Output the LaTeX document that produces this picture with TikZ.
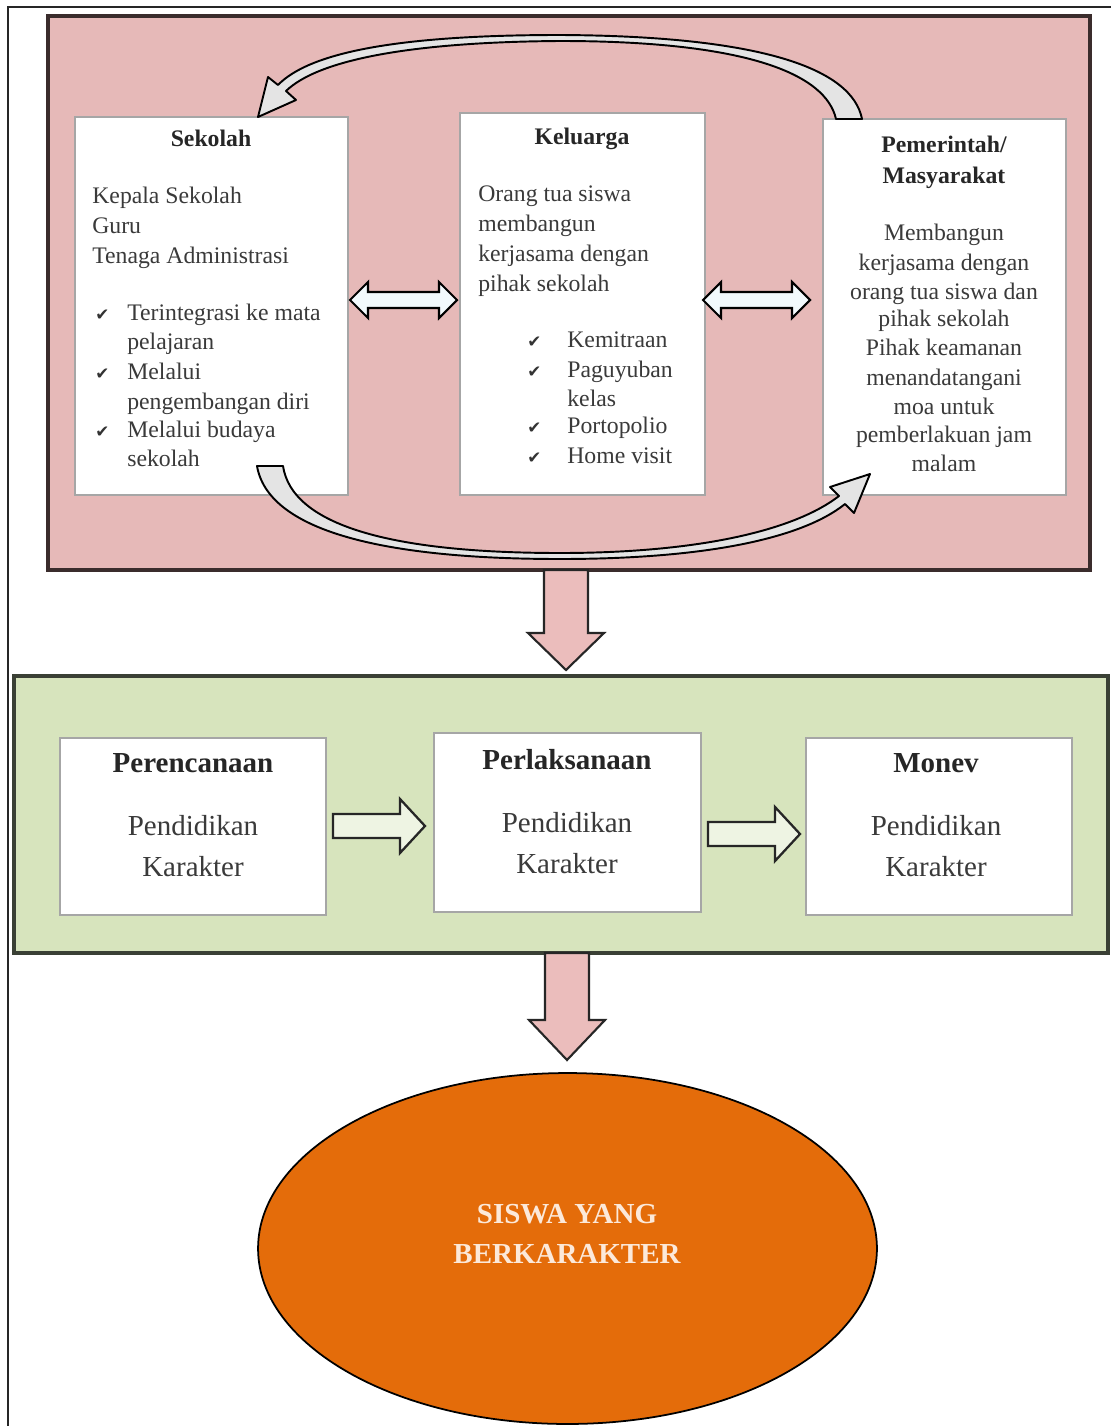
\documentclass[tikz,border=0pt]{standalone}
\usepackage{fontspec}
\setmainfont{Liberation Serif}
\newfontfamily\symfont{DejaVu Sans}
\usetikzlibrary{shapes.geometric}
\definecolor{pinkfill}{HTML}{E6B9B8}
\definecolor{greenfill}{HTML}{D7E4BD}
\definecolor{orangefill}{HTML}{E46C0A}
\definecolor{panelborder}{HTML}{3A2C2C}
\definecolor{gpanelborder}{HTML}{3A4035}
\definecolor{boxgray}{HTML}{A6A6A6}
\definecolor{textgray}{HTML}{3A3A3A}
\definecolor{curvefill}{HTML}{E4E4E4}
\definecolor{dblfill}{HTML}{F2F9FC}
\definecolor{grnarrowfill}{HTML}{EEF4E3}
\definecolor{arrowpink}{HTML}{EBBDBC}
\definecolor{ovaltext}{HTML}{FCE9DA}
\begin{document}
\begin{tikzpicture}[x=0.02cm,y=-0.02cm,
  txt/.style={inner sep=0, font=\fontsize{13.5}{17}\selectfont, text=textgray},
  ttl/.style={inner sep=0, font=\fontsize{13.5}{17}\selectfont\bfseries, text=black!85},
  gtxt/.style={inner sep=0, font=\fontsize{16.5}{20}\selectfont, text=textgray},
  gttl/.style={inner sep=0, font=\fontsize{16.5}{20}\selectfont\bfseries, text=black!85},
  chk/.style={inner sep=0, font=\symfont\fontsize{9.5}{12}\selectfont, text=black!80},
  panel/.style={rectangle, inner sep=0, line width=2.3pt},
  wbox/.style={rectangle, inner sep=0, draw=boxgray, line width=1.1pt, fill=white},
  curv/.style={draw=black, line width=1.1pt, fill=curvefill, line join=round},
  dblarrow/.style={draw=black, line width=1.2pt, fill=dblfill, line join=miter},
  grnarrow/.style={draw=black!85, line width=1.3pt, fill=grnarrowfill, line join=miter},
  pinkarrow/.style={draw=black!85, line width=1.2pt, fill=arrowpink, line join=miter}]
\useasboundingbox (0,0) rectangle (1111,1426);
\fill[white] (0,0) rectangle (1111,1426);
\draw[line width=0.9pt, black!85] (8,1426) -- (8,7) -- (1111,7);

% ---------- top panel ----------
\node[panel, draw=panelborder, fill=pinkfill, minimum width=20.84cm, minimum height=11.08cm] (top) at (569,293) {};
\node[wbox, minimum width=5.46cm, minimum height=7.56cm] (sek) at (211.5,306) {};
\node[wbox, minimum width=4.9cm, minimum height=7.64cm] (kel) at (582.5,304) {};
\node[wbox, minimum width=4.86cm, minimum height=7.52cm] (pem) at (944.5,307) {};

% double arrows
\draw[dblarrow] (350,300) -- (368,282) -- (368,292) -- (439,292) -- (439,282) -- (457,300) -- (439,318) -- (439,308) -- (368,308) -- (368,318) -- cycle;
\draw[dblarrow] (703,300) -- (721,282) -- (721,292) -- (792,292) -- (792,282) -- (810,300) -- (792,318) -- (792,308) -- (721,308) -- (721,318) -- cycle;

% curved arrows
\draw[curv] (862,119) .. controls (852,68) and (760,36) .. (560,35) .. controls (400,35) and (310,52) .. (278,85) -- (268,77) -- (258,117) -- (296,100) -- (286,91) .. controls (318,60) and (410,42) .. (560,41) .. controls (750,41) and (826,75) .. (836,119) -- cycle;
\draw[curv] (257,466) .. controls (268,530) and (380,559) .. (560,559) .. controls (700,559) and (800,540) .. (845,504) -- (854,513) -- (870,474) -- (830,487) -- (839,496) .. controls (795,530) and (700,553) .. (560,553) .. controls (390,553) and (292,525) .. (283,466) -- cycle;

% Sekolah text
\node[ttl, anchor=base] (sekT) at (211,146) {Sekolah};
\foreach \lbl/\yy [count=\i] in {Kepala Sekolah/203, Guru/233, Tenaga Administrasi/263}
  \node[txt, anchor=base west] (sekA\i) at (92,\yy) {\lbl};
\foreach \yy [count=\i] in {320,379,437}
  \node[chk, anchor=base west] (sekC\i) at (95,\yy) {✔};
\foreach \lbl/\yy [count=\i] in {Terintegrasi ke mata/320, pelajaran/349, Melalui/379, pengembangan diri/409, Melalui budaya/437, sekolah/466}
  \node[txt, anchor=base west] (sekL\i) at (127,\yy) {\lbl};

% Keluarga text
\node[ttl, anchor=base] (kelT) at (582,144) {Keluarga};
\foreach \lbl/\yy [count=\i] in {Orang tua siswa/201, membangun/231, kerjasama dengan/261, pihak sekolah/291}
  \node[txt, anchor=base west] (kelA\i) at (478,\yy) {\lbl};
\foreach \yy [count=\i] in {347,377,433,463}
  \node[chk, anchor=base west] (kelC\i) at (527,\yy) {✔};
\foreach \lbl/\yy [count=\i] in {Kemitraan/347, Paguyuban/377, kelas/406, Portopolio/433, Home visit/463}
  \node[txt, anchor=base west] (kelL\i) at (567,\yy) {\lbl};

% Pemerintah text
\node[ttl, anchor=base] (pemT1) at (944,153) {Pemerintah/};
\node[ttl, anchor=base] (pemT2) at (944,183) {Masyarakat};
\foreach \lbl/\yy [count=\i] in {Membangun/240, kerjasama dengan/270, orang tua siswa dan/299, pihak sekolah/326, Pihak keamanan/355, menandatangani/385, moa untuk/414, pemberlakuan jam/442, malam/471}
  \node[txt, anchor=base] (pemA\i) at (944,\yy) {\lbl};

% arrow to middle panel
\draw[pinkarrow] (544,570) -- (588,570) -- (588,633) -- (604,633) -- (566,670) -- (528,633) -- (544,633) -- cycle;

% ---------- middle panel ----------
\node[panel, draw=gpanelborder, fill=greenfill, minimum width=21.88cm, minimum height=5.54cm] (mid) at (561,814.5) {};
\node[wbox, minimum width=5.32cm, minimum height=3.54cm] (per) at (193,826.5) {};
\node[wbox, minimum width=5.34cm, minimum height=3.58cm] (pel) at (567.5,822.5) {};
\node[wbox, minimum width=5.32cm, minimum height=3.54cm] (mon) at (939,826.5) {};

\draw[grnarrow] (333,814) -- (400,814) -- (400,799) -- (425,826) -- (400,853) -- (400,838) -- (333,838) -- cycle;
\draw[grnarrow] (708,822) -- (775,822) -- (775,807) -- (800,834) -- (775,861) -- (775,846) -- (708,846) -- cycle;

\node[gttl, anchor=base] (perT) at (193,772) {Perencanaan};
\node[gtxt, anchor=base] (perA) at (193,835) {Pendidikan};
\node[gtxt, anchor=base] (perB) at (193,876) {Karakter};
\node[gttl, anchor=base] (pelT) at (567,769) {Perlaksanaan};
\node[gtxt, anchor=base] (pelA) at (567,832) {Pendidikan};
\node[gtxt, anchor=base] (pelB) at (567,873) {Karakter};
\node[gttl, anchor=base] (monT) at (936,772) {Monev};
\node[gtxt, anchor=base] (monA) at (936,835) {Pendidikan};
\node[gtxt, anchor=base] (monB) at (936,876) {Karakter};

% arrow to result
\draw[pinkarrow] (545,953) -- (589,953) -- (589,1020) -- (605,1020) -- (567,1060) -- (529,1020) -- (545,1020) -- cycle;

% ---------- result ----------
\node[ellipse, draw=black, line width=1pt, fill=orangefill, minimum width=12.38cm, minimum height=7.02cm, inner sep=0] (res) at (567.5,1248.5) {};
\node[gttl, text=ovaltext, anchor=base] (resA) at (567,1223) {SISWA YANG};
\node[gttl, text=ovaltext, anchor=base] (resB) at (567,1263) {BERKARAKTER};
\end{tikzpicture}
\end{document}
